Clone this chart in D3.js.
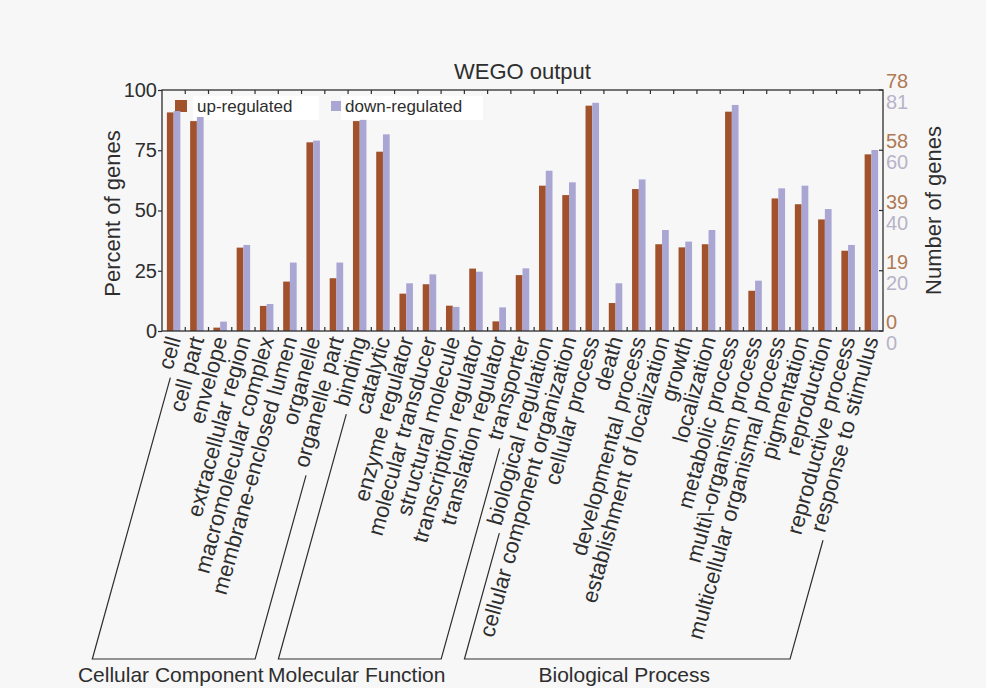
<!DOCTYPE html>
<html><head><meta charset="utf-8">
<script src="https://cdn.jsdelivr.net/npm/d3@7"></script>
<style>
html,body{margin:0;padding:0;background:#f7f7f7;}
svg{display:block;font-family:"Liberation Sans",Arial,Helvetica,sans-serif;}
</style></head>
<body>
<svg id="chart" width="986" height="688"></svg>
<script>
const categories = ["cell","cell part","envelope","extracellular region","macromolecular complex","membrane-enclosed lumen","organelle","organelle part",
  "binding","catalytic","enzyme regulator","molecular transducer","structural molecule","transcription regulator","translation regulator","transporter",
  "biological regulation","cellular component organization","cellular process","death","developmental process","establishment of localization","growth","localization","metabolic process","multi\\-organism process","multicellular organismal process","pigmentation","reproduction","reproductive process","response to stimulus"];
const upPct   = [90.7,87.1,1.4,34.6,10.4,20.5,78.3,21.9, 87.1,74.4,15.5,19.4,10.5,25.9,4.0,23.2, 60.3,56.4,93.5,11.6,58.9,36.0,34.7,36.0,91.0,16.7,55.0,52.6,46.3,33.3,73.3];
const downPct = [91.3,88.8,3.9,35.7,11.2,28.4,79.0,28.4, 87.6,81.6,19.8,23.5,10.0,24.6,9.8,26.0, 66.5,61.7,94.7,19.8,62.9,41.9,37.1,41.9,93.8,20.9,59.2,60.3,50.6,35.7,75.1];
const seriesNames = ["up-regulated","down-regulated"];
const pctTicks = [0,25,50,75,100];
const upCountTicks = ["0","19","39","58","78"];
const downCountTicks = ["0","20","40","60","81"];
const groupNames = ["Cellular Component","Molecular Function","Biological Process"];
const groupSizes = [8,8,15];

const colors = {up:"#a1512c", down:"#aaa6d3", upText:"#b07a55", downText:"#b7b3c9", ink:"#2e2e2e"};
const L=162, R=883, T=90, B=331;
const svg = d3.select("#chart");

const x0 = d3.scaleBand().domain(categories).range([L,R]).paddingInner(0.42).paddingOuter(0.21);
const x1 = d3.scaleBand().domain(["up","down"]).range([0,x0.bandwidth()]);
const y = d3.scaleLinear().domain([0,100]).range([B,T]);

// title
svg.append("text").attr("x",(L+R)/2).attr("y",79).attr("text-anchor","middle")
  .attr("font-size",22).attr("fill",colors.ink).text("WEGO output");

// legend
const lg = svg.append("g");
lg.append("rect").attr("x",193).attr("y",96).attr("width",126).attr("height",24).attr("fill","#fff");
lg.append("rect").attr("x",341).attr("y",96).attr("width",142).attr("height",24).attr("fill","#fff");
lg.append("rect").attr("x",175).attr("y",100).attr("width",12).attr("height",12).attr("fill",colors.up);
lg.append("rect").attr("x",331).attr("y",101).attr("width",10).attr("height",10).attr("fill",colors.down);
lg.append("text").attr("x",197).attr("y",112).attr("font-size",17).attr("fill",colors.ink).text(seriesNames[0]);
lg.append("text").attr("x",345).attr("y",112).attr("font-size",17).attr("fill",colors.ink).text(seriesNames[1]);

// bars
const data = categories.map((c,i)=>({c, up:upPct[i], down:downPct[i]}));
const gb = svg.append("g");
const grp = gb.selectAll("g").data(data).join("g").attr("transform",d=>`translate(${x0(d.c)},0)`);
grp.selectAll("rect").data(d=>[{k:"up",v:d.up},{k:"down",v:d.down}]).join("rect")
  .attr("x",d=>x1(d.k)).attr("width",x1.bandwidth())
  .attr("y",d=>y(d.v)).attr("height",d=>B-y(d.v))
  .attr("fill",d=>colors[d.k]);

// frame
svg.append("rect").attr("x",L).attr("y",T).attr("width",R-L).attr("height",B-T)
  .attr("fill","none").attr("stroke",colors.ink).attr("stroke-width",1.3);

// top/bottom inward ticks at band boundaries
const step = x0.step();
const bounds = d3.range(1,categories.length).map(i=>L+i*step);
svg.append("g").selectAll("line").data(bounds).join("line")
  .attr("x1",d=>d).attr("x2",d=>d).attr("y1",T).attr("y2",T+4).attr("stroke",colors.ink).attr("stroke-width",1.2);
svg.append("g").selectAll("line").data(bounds).join("line")
  .attr("x1",d=>d).attr("x2",d=>d).attr("y1",B).attr("y2",B-4).attr("stroke",colors.ink).attr("stroke-width",1.2);

// left axis
const ax = svg.append("g").attr("transform",`translate(${L},0)`)
  .call(d3.axisLeft(y).tickValues(pctTicks).tickSizeInner(4).tickSizeOuter(0).tickPadding(1));
ax.select(".domain").remove();
ax.selectAll("line").attr("stroke",colors.ink).attr("stroke-width",1.2);
ax.selectAll("text").attr("font-size",20).attr("fill",colors.ink).attr("font-family","Liberation Sans, Arial, sans-serif");

// right axis
const rt = svg.append("g");
rt.selectAll("line").data(pctTicks).join("line")
  .attr("x1",R).attr("x2",R-4).attr("y1",d=>y(d)).attr("y2",d=>y(d)).attr("stroke",colors.ink).attr("stroke-width",1.2);
rt.selectAll("text.u").data(pctTicks).join("text").attr("class","u")
  .attr("x",R+3).attr("y",d=>y(d)-9).attr("dy","0.35em").attr("font-size",20).attr("fill",colors.upText)
  .text((d,i)=>upCountTicks[i]);
rt.selectAll("text.d").data(pctTicks).join("text").attr("class","d")
  .attr("x",R+3).attr("y",d=>y(d)+12).attr("dy","0.35em").attr("font-size",20).attr("fill",colors.downText)
  .text((d,i)=>downCountTicks[i]);

// axis titles
svg.append("text").attr("transform",`translate(120,${(T+B)/2+3}) rotate(-90)`).attr("text-anchor","middle")
  .attr("font-size",22).attr("fill",colors.ink).text("Percent of genes");
svg.append("text").attr("transform",`translate(941,${(T+B)/2}) rotate(-90)`).attr("text-anchor","middle")
  .attr("font-size",22).attr("fill",colors.ink).text("Number of genes");

// category labels
const ang = 74.5, rad = ang*Math.PI/180;
const labY = B+6, fs = 22, dyEm = 0.35;
const labs = svg.append("g").selectAll("text").data(categories).join("text")
  .attr("transform",d=>`translate(${x0(d)+x0.bandwidth()/2},${labY}) rotate(${-ang})`)
  .attr("text-anchor","end").attr("dy",dyEm+"em").attr("font-size",fs).attr("fill",colors.ink)
  .text(d=>d);
const lens = [];
labs.each(function(){ lens.push(this.getComputedTextLength()); });

// group brackets
const brY = 659, gap = 7;
const dirX = -Math.cos(rad), dirY = Math.sin(rad);      // down-left along baseline
const shX = Math.sin(rad)*dyEm*fs, shY = Math.cos(rad)*dyEm*fs;
function labelStart(i){
  const cx = x0(categories[i]) + x0.bandwidth()/2 + shX;
  const cy = labY + shY;
  return [cx + dirX*(lens[i]+gap), cy + dirY*(lens[i]+gap)];
}
let start = 0;
const gg = svg.append("g");
groupNames.forEach((name,gi)=>{
  const a = start, b = start + groupSizes[gi]-1;
  start += groupSizes[gi];
  const pa = labelStart(a), pb = labelStart(b);
  const ca = pa[0] + (brY-pa[1])*dirX/dirY;
  const cb = pb[0] + (brY-pb[1])*dirX/dirY;
  gg.append("path").attr("d",`M${pa[0]},${pa[1]}L${ca},${brY}L${cb},${brY}L${pb[0]},${pb[1]}`)
    .attr("fill","none").attr("stroke",colors.ink).attr("stroke-width",1.2);
  gg.append("text").attr("x",(ca+cb)/2 - 3).attr("y",682).attr("text-anchor","middle")
    .attr("font-size",21).attr("fill",colors.ink).text(name);
});
</script>
</body></html>
